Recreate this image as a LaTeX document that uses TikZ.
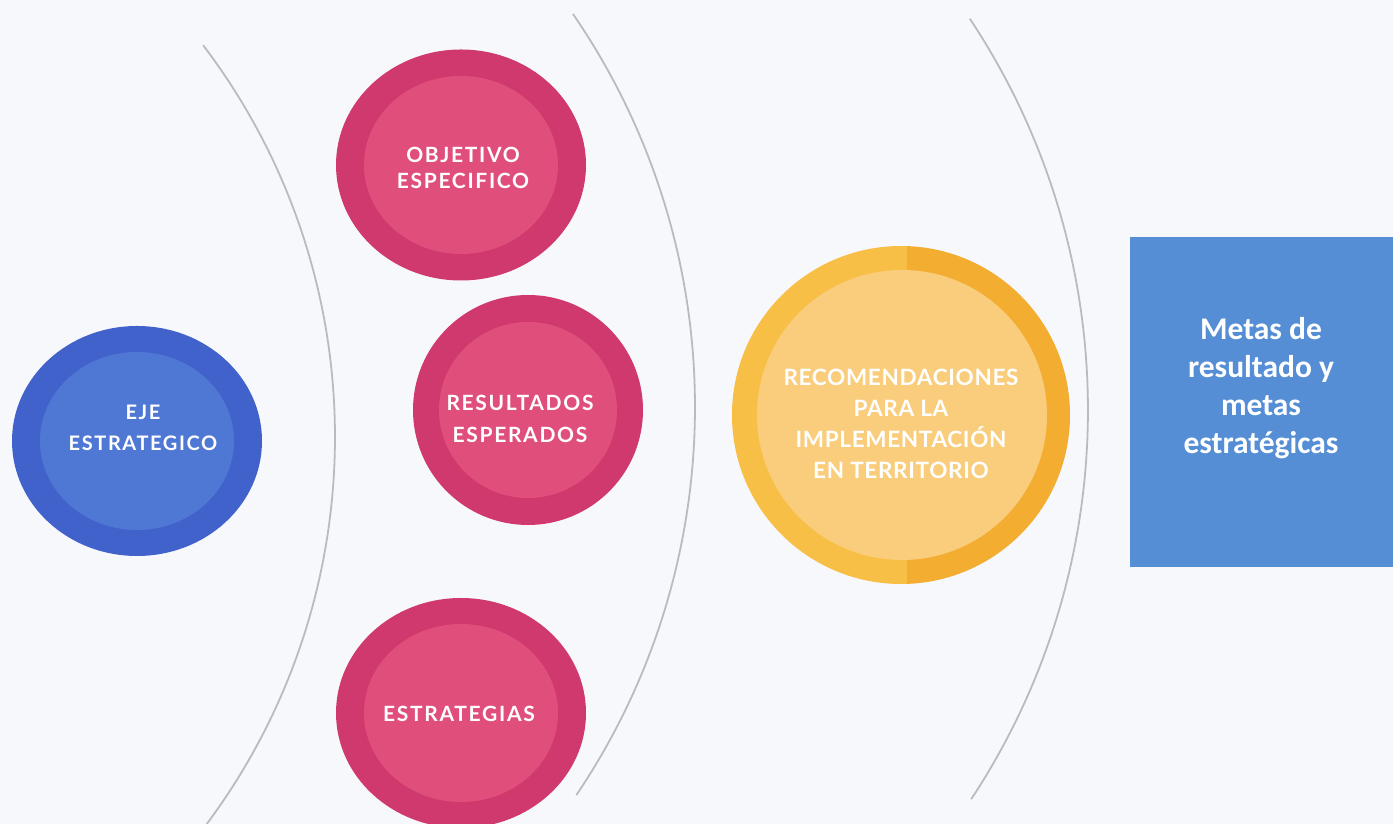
\documentclass[tikz,border=0pt]{standalone}
\usepackage{fontspec}
\usetikzlibrary{shapes.geometric}
\newfontfamily\capfont[LetterSpace=8]{Lato}
\newfontfamily\boxfont{Carlito}
\definecolor{bg}{HTML}{F7F8FC}
\definecolor{blueOut}{HTML}{4262CB}
\definecolor{blueIn}{HTML}{4F78D4}
\definecolor{pinkOut}{HTML}{D0396E}
\definecolor{pinkIn}{HTML}{E04F7B}
\definecolor{yelL}{HTML}{F8BF47}
\definecolor{yelR}{HTML}{F3AD30}
\definecolor{yelIn}{HTML}{F9CD7C}
\definecolor{boxBlue}{HTML}{558ED5}
\definecolor{arcGray}{HTML}{BABBBE}
\tikzset{
  ring/.style={ellipse, inner sep=0pt, draw=none},
  captxt/.style={text=white, align=center, inner sep=0pt,
    font=\capfont\bfseries\fontsize{21}{30}\selectfont},
  sep/.style={draw=arcGray, line width=1.8pt},
}
\begin{document}
\begin{tikzpicture}[x=1pt,y=1pt]
\fill[bg] (0,0) rectangle (1393,824);
\useasboundingbox (0,0) rectangle (1393,824);
\clip (0,0) rectangle (1393,824);
% separator arcs
\draw[sep] (-313,387) ++(37.2:648) arc[start angle=37.2, end angle=-40, radius=648];
\draw[sep] (1,417) ++(34.5:694) arc[start angle=34.5, end angle=-34, radius=694];
\draw[sep] (381,414) ++(33.6:707) arc[start angle=33.6, end angle=-33.4, radius=707];
% eje
\node[ring, fill=blueOut, minimum width=250pt, minimum height=230pt] (ejeO) at (137,383) {};
\node[ring, fill=blueIn, minimum width=194pt, minimum height=178pt] (ejeI) at (137,383) {};
\node[captxt, font=\capfont\bfseries\fontsize{20}{31}\selectfont] (ejeT) at (143,396) {EJE\\ESTRATEGICO};
% objetivo
\node[ring, fill=pinkOut, minimum width=250pt, minimum height=231pt] (objO) at (461,659) {};
\node[ring, fill=pinkIn, minimum width=194pt, minimum height=178pt] (objI) at (461,659) {};
\node[captxt, font=\capfont\bfseries\fontsize{21}{26}\selectfont] (objT) at (463,656) {OBJETIVO\\ESPECIFICO};
% resultados
\node[ring, fill=pinkOut, minimum width=230pt, minimum height=230pt] (resO) at (528,414) {};
\node[ring, fill=pinkIn, minimum width=178pt, minimum height=176pt] (resI) at (528,414) {};
\node[captxt, font=\capfont\bfseries\fontsize{21}{32}\selectfont] (resT) at (520,405) {RESULTADOS\\ESPERADOS};
% estrategias
\node[ring, fill=pinkOut, minimum width=250pt, minimum height=230pt] (estO) at (461,111) {};
\node[ring, fill=pinkIn, minimum width=194pt, minimum height=178pt] (estI) at (461,111) {};
\node[captxt] (estT) at (459,110) {ESTRATEGIAS};
% recomendaciones
\begin{scope}
  \clip (901,409) circle[radius=169];
  \fill[yelL] (732,240) rectangle (907,578);
  \fill[yelR] (907,240) rectangle (1071,578);
\end{scope}
\node[circle, inner sep=0pt, fill=yelIn, minimum size=290pt] (recI) at (902,409) {};
\node[captxt, font=\capfont\bfseries\fontsize{22.5}{31}\selectfont\addfontfeatures{LetterSpace=3}] (recT) at (901,400)
  {RECOMENDACIONES\\PARA LA\\IMPLEMENTACIÓN\\EN TERRITORIO};
% box
\node[fill=boxBlue, minimum width=263pt, minimum height=330pt, inner sep=0pt, anchor=south west] (metaBox) at (1130,257) {};
\node[text=white, align=center, inner sep=0pt, font=\boxfont\bfseries\fontsize{31.5}{38}\selectfont] (metaT) at (1261,436)
  {Metas de\\resultado y\\metas\\estratégicas};
\end{tikzpicture}
\end{document}
